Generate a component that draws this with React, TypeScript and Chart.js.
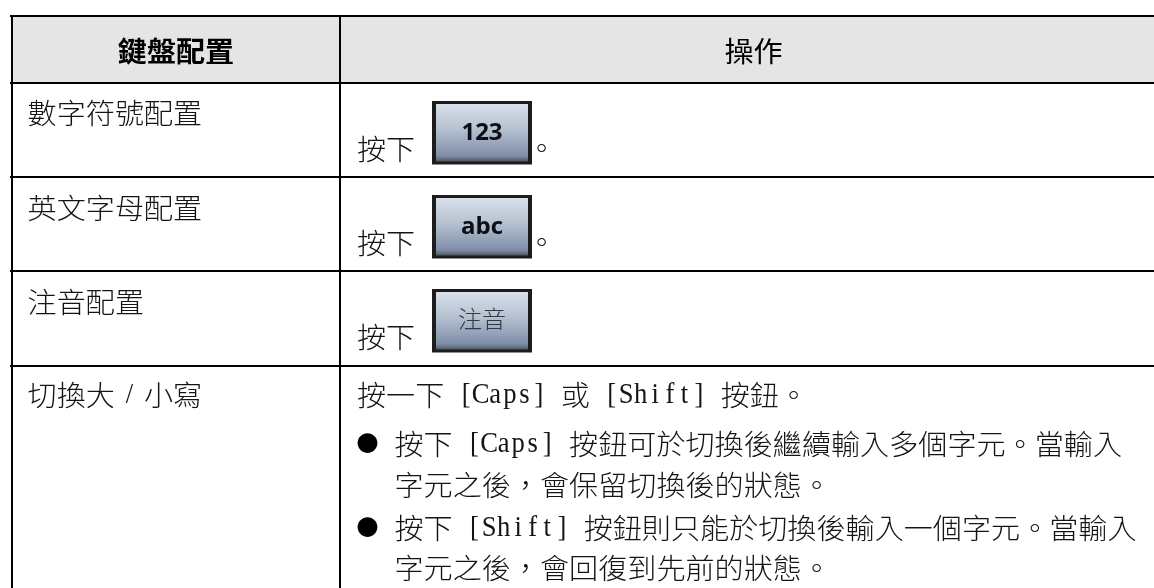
import React, { useEffect, useRef } from "react";
import { Chart, registerables } from "chart.js";

Chart.register(...registerables);

// Table content
const columnLabels = ["鍵盤配置", "操作"];
const rowLabels = ["數字符號配置", "英文字母配置", "注音配置", "切換大 / 小寫"];
const pressWord = "按下";
const keyLabels = ["123", "abc", "注音"];
const keyPeriods = ["。", "。", ""];
const toggleIntro = "按一下 [Caps] 或 [Shift] 按鈕。";
const bullets = ["●", "●"];
const toggleLines = [
  "按下 [Caps] 按鈕可於切換後繼續輸入多個字元。當輸入",
  "字元之後\uFF0C會保留切換後的狀態。",
  "按下 [Shift] 按鈕則只能於切換後輸入一個字元。當輸入",
  "字元之後\uFF0C會回復到先前的狀態。",
];

// Layout (table rules, in page pixels)
const W = 1154;
const H = 588;
const ruleX = [12, 340];
const ruleY = [16, 82.5, 177, 271, 366];
const CELL = 29.1;
const FONT_SIZE = 28;
const CJK = `"Noto Sans CJK TC"`;
const LATIN = `"Liberation Serif"`;
const INK = "#141414";

function drawRun(
  ctx: CanvasRenderingContext2D,
  text: string,
  x0: number,
  y: number,
  opts: { weight?: number; half?: number; color?: string } = {}
) {
  const half = opts.half ?? CELL / 2;
  const weight = opts.weight ?? 300;
  let x = x0;
  ctx.textBaseline = "middle";
  ctx.textAlign = "center";
  ctx.fillStyle = opts.color ?? INK;
  for (const ch of Array.from(text)) {
    const ascii = ch.charCodeAt(0) < 128;
    const adv = ascii ? half : CELL;
    if (ch !== " ") {
      ctx.save();
      ctx.translate(x + adv / 2, y);
      if (ascii) {
        ctx.font = `400 ${FONT_SIZE}px ${LATIN}`;
        ctx.scale(0.95, 1.02);
      } else {
        ctx.font = `${weight} ${FONT_SIZE}px ${CJK}`;
        ctx.scale(CELL / FONT_SIZE, 1);
      }
      ctx.fillText(ch, 0, 0);
      ctx.restore();
    }
    x += adv;
  }
}

const tablePlugin = {
  id: "tablePlugin",
  beforeDraw(chart: any) {
    const { ctx } = chart;
    const sx = chart.scales.x;
    const sy = chart.scales.y;
    ctx.save();
    ctx.fillStyle = "#ffffff";
    ctx.fillRect(0, 0, W, H);
    ctx.fillStyle = "#e5e5e5";
    ctx.fillRect(
      sx.getPixelForValue(ruleX[0]),
      sy.getPixelForValue(ruleY[0]),
      W,
      sy.getPixelForValue(ruleY[1]) - sy.getPixelForValue(ruleY[0])
    );
    ctx.restore();
  },
  afterDraw(chart: any) {
    const { ctx } = chart;
    const sx = chart.scales.x;
    const sy = chart.scales.y;
    const X = (v: number) => sx.getPixelForValue(v);
    const Y = (v: number) => sy.getPixelForValue(v);
    ctx.save();

    // Header
    drawRun(ctx, columnLabels[0], X(176) - CELL * 2, Y(51.5), { weight: 700, color: "#000" });
    drawRun(ctx, columnLabels[1], X(753.5) - CELL, Y(51.5), { weight: 400, color: "#000" });

    // First column
    const labelY = [113.5, 208.5, 302, 395.5];
    rowLabels.forEach((label, i) => {
      drawRun(ctx, label, X(27.6), Y(labelY[i]), { half: 9.7 });
    });

    // Key rows
    const keyTop = [101, 195, 289];
    keyLabels.forEach((label, i) => {
      const top = Y(keyTop[i]);
      const left = X(432);
      const w = 100;
      const h = 63.5;
      drawRun(ctx, pressWord, X(357), top + 48.5);
      ctx.fillStyle = "#1c1c1c";
      ctx.fillRect(left, top, w, h);
      const g = ctx.createLinearGradient(0, top + 3, 0, top + h - 3);
      g.addColorStop(0, "#d8e0ea");
      g.addColorStop(0.45, "#b4c0d0");
      g.addColorStop(0.9, "#7f8ea8");
      g.addColorStop(0.95, "#6a7489");
      g.addColorStop(1, "#4e5462");
      ctx.fillStyle = g;
      ctx.fillRect(left + 4, top + 3, w - 8, h - 6);
      ctx.textAlign = "center";
      ctx.textBaseline = "middle";
      if (i < 2) {
        ctx.font = `700 24px "Open Sans"`;
        ctx.fillStyle = "#0d0d12";
        ctx.fillText(label, left + w / 2, top + 32);
      } else {
        ctx.font = `300 24px ${CJK}`;
        ctx.fillStyle = "#333a45";
        ctx.fillText(label, left + w / 2, top + 30);
      }
      if (keyPeriods[i]) drawRun(ctx, keyPeriods[i], X(527), top + 47);
    });

    // Toggle row
    drawRun(ctx, toggleIntro, X(357), Y(395.5));
    const lineY = [444, 485, 528, 568.5];
    toggleLines.forEach((line, i) => {
      drawRun(ctx, line, X(394.5), Y(lineY[i]));
    });
    ctx.fillStyle = "#000";
    ctx.textAlign = "center";
    ctx.textBaseline = "middle";
    ctx.font = `400 22px ${CJK}`;
    bullets.forEach((b, i) => {
      ctx.fillText(b, X(367.5), Y(lineY[i * 2] - 1));
    });
    ctx.restore();
  },
};

export default function App() {
  const ref = useRef<HTMLCanvasElement>(null);
  useEffect(() => {
    const chart = new Chart(ref.current as HTMLCanvasElement, {
      type: "scatter",
      data: { datasets: [{ data: [], pointRadius: 0 }] },
      options: {
        animation: false,
        responsive: false,
        events: [],
        layout: { padding: { left: 10, top: 15, right: 0, bottom: 0 } },
        plugins: { legend: { display: false }, tooltip: { enabled: false }, title: { display: false } },
        scales: {
          x: {
            type: "linear",
            min: 10,
            max: W,
            afterBuildTicks: (a: any) => {
              a.ticks = ruleX.map((value) => ({ value }));
            },
            ticks: { display: false },
            border: { display: false },
            grid: { color: "#000", lineWidth: 2, drawTicks: false },
          },
          y: {
            type: "linear",
            reverse: true,
            min: 15,
            max: H,
            afterBuildTicks: (a: any) => {
              a.ticks = ruleY.map((value) => ({ value }));
            },
            ticks: { display: false },
            border: { display: false },
            grid: { color: "#000", lineWidth: 2, drawTicks: false },
          },
        },
      },
      plugins: [tablePlugin],
    } as any);
    return () => chart.destroy();
  }, []);
  return (
    <div style={{ position: "absolute", left: 0, top: 0, width: W, height: H, background: "#fff" }}>
      <canvas ref={ref} width={W} height={H} style={{ display: "block", width: W, height: H }} />
    </div>
  );
}
